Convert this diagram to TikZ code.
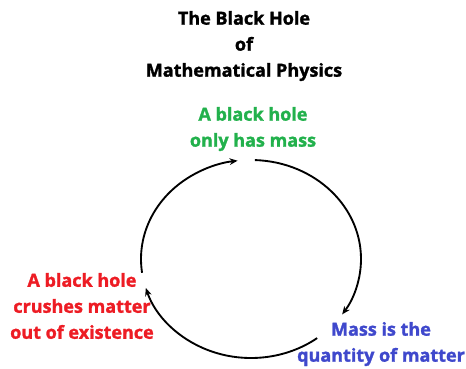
\documentclass[tikz,border=0pt]{standalone}
\usepackage{fontspec}
\setmainfont{Open Sans}[BoldFeatures={FakeBold=1.5}]
\usetikzlibrary{arrows.meta,calc,positioning}
\definecolor{bhgreen}{RGB}{34,177,76}
\definecolor{bhred}{RGB}{237,28,36}
\definecolor{bhblue}{RGB}{63,72,204}

\begin{document}
\begin{tikzpicture}[x=0.75pt,y=0.75pt,
      lbl/.style={align=center,inner sep=0pt,font=\bfseries\fontsize{13.5}{19.5}\selectfont},
      a/.style={-{Stealth[length=6pt,width=5pt]},line width=1.4pt}]
      \useasboundingbox (0,0) rectangle (466,368);
      \node[lbl] (title) at (244,322) {The Black Hole\\of\\Mathematical Physics};
      \node[lbl,text=bhgreen] (onlymass) at (253,239) {A black hole\\only has mass};
      \node[lbl,text=bhblue] (quantity) at (381,24) {Mass is the\\quantity of matter};
      \node[lbl,text=bhred] (crush) at (82,62) {A black hole\\crushes matter\\out of existence};
      % the cycle
      \coordinate (c) at (251,109);
      \coordinate (top) at ($(c)+(88:110 and 99)$);
      \coordinate (rgt) at ($(c)+(-53:110 and 99)$);
      \coordinate (lft) at ($(c)+(188:110 and 99)$);
      \draw[a] (top) arc[start angle=88,end angle=-34,x radius=110,y radius=99];
      \draw[a] (rgt) arc[start angle=-53,end angle=-163,x radius=110,y radius=99];
      \draw[a] (lft) arc[start angle=188,end angle=97,x radius=110,y radius=99];
    \end{tikzpicture}
\end{document}
